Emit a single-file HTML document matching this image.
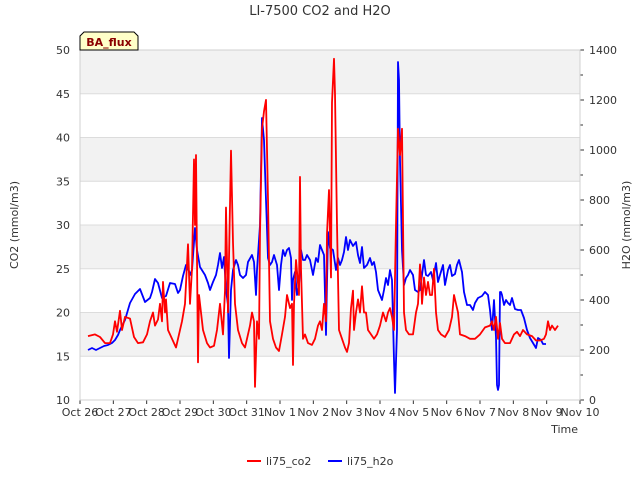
<!DOCTYPE html>
<html><head><meta charset="utf-8"><style>
body{margin:0;background:#fff;font-family:"Liberation Sans","DejaVu Sans",sans-serif}
svg text{font-family:"DejaVu Sans","Liberation Sans",sans-serif;fill:#333}
</style></head><body>
<svg id="chart" width="640" height="480">
<g id="bands"></g><g id="grid"></g><g id="axes"></g><g id="series"></g>
<text x="320" y="15" text-anchor="middle" font-size="13">LI-7500 CO2 and H2O</text>
<text transform="translate(18,225) rotate(-90)" text-anchor="middle" font-size="11">CO2 (mmol/m3)</text>
<text transform="translate(630,225) rotate(-90)" text-anchor="middle" font-size="11">H2O (mmol/m3)</text>
<text x="578" y="433" text-anchor="end" font-size="11">Time</text>
<g><path d="M80,50 L80,36 L84,32 L134,32 L138,36 L138,50 Z" fill="#ffffc8" stroke="#000" stroke-width="1"/>
<text x="109" y="46" text-anchor="middle" font-size="11" font-weight="bold" style="fill:#8b0000">BA_flux</text></g>
<g><line x1="247" y1="461" x2="261" y2="461" stroke="#f00" stroke-width="2"/><text x="266" y="465" font-size="11">li75_co2</text></g>
<g><line x1="328" y1="461" x2="342" y2="461" stroke="#00f" stroke-width="2"/><text x="347" y="465" font-size="11">li75_h2o</text></g>
</svg>
<script>
const xTickLabels=["Oct 26","Oct 27","Oct 28","Oct 29","Oct 30","Oct 31","Nov 1","Nov 2","Nov 3","Nov 4","Nov 5","Nov 6","Nov 7","Nov 8","Nov 9","Nov 10"];
const leftTicks=[10,15,20,25,30,35,40,45,50];
const rightTicks=[0,200,400,600,800,1000,1200,1400];
const co2Days=[0.24,0.45,0.6,0.75,0.9,0.99,1.05,1.11,1.2,1.26,1.35,1.5,1.62,1.74,1.89,2.01,2.1,2.19,2.25,2.34,2.4,2.46,2.49,2.55,2.58,2.64,2.76,2.88,2.94,3.06,3.15,3.24,3.3,3.36,3.42,3.45,3.48,3.54,3.57,3.63,3.69,3.81,3.9,4.02,4.11,4.2,4.29,4.35,4.38,4.44,4.53,4.59,4.65,4.74,4.86,4.95,5.01,5.1,5.16,5.22,5.25,5.31,5.37,5.4,5.46,5.52,5.58,5.64,5.7,5.79,5.88,5.97,6.06,6.15,6.21,6.3,6.36,6.39,6.42,6.48,6.57,6.6,6.63,6.66,6.69,6.75,6.84,6.96,7.05,7.14,7.2,7.26,7.32,7.38,7.41,7.47,7.53,7.56,7.62,7.65,7.71,7.77,7.86,7.95,8.01,8.07,8.13,8.19,8.22,8.28,8.34,8.4,8.46,8.52,8.58,8.64,8.73,8.82,8.91,9,9.09,9.18,9.24,9.3,9.36,9.42,9.48,9.54,9.6,9.66,9.72,9.78,9.87,9.99,10.08,10.14,10.2,10.23,10.26,10.32,10.38,10.44,10.5,10.56,10.62,10.68,10.74,10.83,10.95,11.07,11.16,11.22,11.28,11.34,11.4,11.55,11.7,11.85,12,12.15,12.3,12.36,12.42,12.48,12.54,12.6,12.66,12.75,12.9,13.02,13.11,13.2,13.29,13.41,13.56,13.68,13.8,13.92,13.98,14.04,14.1,14.16,14.25,14.34];
const co2Values=[17.3,17.5,17.2,16.5,16.5,17.5,19,17.8,20.2,18,19.5,19.3,17.2,16.5,16.6,17.5,19,20,18.5,19.2,21,19,23.5,20,21.5,18,17,16,17,19,21,27.8,21,25,37.5,30,38,14.3,22,20,18,16.5,16,16.2,18,21,17.5,22.5,32,20,38.5,28,21,18,16.5,16,17,18.5,20,19,11.5,19,17,29,41,43,44.3,33,19,17,16,15.6,17.5,19.5,22,20.5,21,14,21,26,22,35.5,25,21,17,17.5,16.5,16.3,17,18.5,19,18,21,19,29,34,24,44,49,45,30,18,17,16,15.5,16.5,20.5,22.5,18,20,21.5,20,23,20,20,18,17.5,17,17.5,18.5,20,19,20,20.5,19.5,18,30,41,38,41,20,18,17.5,17.5,20,21,25.5,24,21,24,22,23.5,22,22,25,20,18,17.5,17.2,18,19.5,22,21,20,17.5,17.3,17,17,17.5,18.3,18.5,19,18,19.5,17,18.8,17,16.5,16.5,17.5,17.8,17.3,18,17.5,17.3,16.8,16.8,17,17.5,19,18,18.5,18,18.5];
const h2oDays=[0.24,0.36,0.48,0.6,0.72,0.84,0.96,1.05,1.14,1.2,1.35,1.5,1.65,1.8,1.95,2.1,2.16,2.25,2.34,2.46,2.58,2.7,2.85,2.94,3,3.09,3.18,3.24,3.3,3.36,3.45,3.51,3.6,3.75,3.84,3.9,3.99,4.08,4.14,4.2,4.26,4.32,4.38,4.44,4.47,4.53,4.59,4.68,4.74,4.8,4.89,4.98,5.04,5.16,5.22,5.28,5.31,5.4,5.46,5.52,5.58,5.64,5.7,5.76,5.82,5.91,5.97,6.03,6.09,6.15,6.21,6.27,6.33,6.36,6.39,6.45,6.51,6.57,6.63,6.69,6.75,6.81,6.9,6.99,7.08,7.14,7.2,7.26,7.32,7.38,7.44,7.5,7.59,7.68,7.74,7.8,7.86,7.92,7.98,8.04,8.1,8.19,8.28,8.34,8.4,8.46,8.52,8.61,8.7,8.76,8.82,8.88,8.94,9,9.06,9.12,9.18,9.24,9.3,9.36,9.42,9.45,9.51,9.54,9.57,9.6,9.66,9.72,9.78,9.84,9.9,9.99,10.05,10.14,10.2,10.26,10.32,10.38,10.44,10.53,10.59,10.68,10.74,10.8,10.89,10.95,11.04,11.1,11.16,11.25,11.31,11.37,11.46,11.52,11.61,11.7,11.79,11.85,11.94,12.06,12.15,12.24,12.3,12.36,12.42,12.48,12.51,12.54,12.57,12.6,12.63,12.66,12.72,12.78,12.84,12.9,12.96,13.05,13.14,13.23,13.32,13.41,13.5,13.59,13.68,13.74,13.83,13.89,13.98,14.07,14.16,14.28];
const h2oValues=[200,208,200,208,216,220,228,240,260,280,320,388,424,444,392,408,432,484,468,408,416,468,464,428,440,496,540,528,500,520,688,600,532,500,468,440,472,500,540,588,528,572,440,380,168,440,520,560,540,500,488,500,552,580,552,420,520,700,1128,1040,800,568,540,552,580,540,440,540,600,576,600,608,568,400,480,512,420,460,600,560,560,580,560,500,568,552,620,600,580,260,672,608,600,520,568,540,560,592,652,600,640,616,632,580,548,612,528,540,568,540,552,512,440,420,400,440,488,460,520,480,160,28,280,1352,1280,960,600,460,488,500,520,500,440,432,440,500,560,500,496,512,480,548,472,500,540,460,520,540,496,504,540,560,512,432,380,380,360,388,408,416,432,420,360,280,400,250,60,40,60,432,432,420,380,400,388,380,408,364,360,360,328,280,248,228,208,248,240,224,224];
const NS="http://www.w3.org/2000/svg";
const L=80,R=580,T=50,B=400;
const xs=d=>L+(R-L)*d/15;
const yL=v=>B-(B-T)*(v-10)/40;
const yR=v=>B-(B-T)*v/1400;
function mk(tag,attrs,parent){const e=document.createElementNS(NS,tag);for(const k in attrs)e.setAttribute(k,attrs[k]);document.getElementById(parent).appendChild(e);return e;}
for(let i=0;i<leftTicks.length-1;i++){
  if(i%2===1){const b=mk('rect',{x:L,y:yL(leftTicks[i+1]),width:R-L,height:yL(leftTicks[i])-yL(leftTicks[i+1]),fill:'#f2f2f2'},'bands');
  
  }
}
leftTicks.forEach(v=>{
  const g=mk('line',{x1:L,x2:R,y1:yL(v),y2:yL(v),stroke:'#dcdcdc','stroke-width':1},'grid');
  
  
  const t=mk('text',{x:L-10,y:yL(v)+4,'text-anchor':'end','font-size':11},'axes');t.textContent=v;
  
  
});
rightTicks.forEach(v=>{
  const t=mk('text',{x:R+9,y:yR(v)+4,'font-size':11},'axes');t.textContent=v;
  
  
  mk('line',{x1:R,x2:R+4,y1:yR(v),y2:yR(v),stroke:'#333'},'axes');
  if(v<1400)mk('line',{x1:R,x2:R+3,y1:yR(v+100),y2:yR(v+100),stroke:'#333'},'axes');
});
xTickLabels.forEach((s,i)=>{
  const t=mk('text',{x:xs(i),y:416,'text-anchor':'middle','font-size':11},'axes');t.textContent=s;
  
  
  mk('line',{x1:xs(i),x2:xs(i),y1:B,y2:B+4,stroke:'#333'},'axes');
});
mk('rect',{x:L,y:T,width:R-L,height:B-T,fill:'none',stroke:'#d0d0d0'},'axes');
function line(days,vals,yf,col,name){
  const p=mk('polyline',{points:days.map((d,i)=>xs(d).toFixed(1)+','+yf(vals[i]).toFixed(1)).join(' '),fill:'none',stroke:col,'stroke-width':1.8,'stroke-linejoin':'round'},'series');
  
  
}
line(h2oDays,h2oValues,yR,'#0000ff','h2o-line');
line(co2Days,co2Values,yL,'#ff0000','co2-line');
</script>
</body></html>
